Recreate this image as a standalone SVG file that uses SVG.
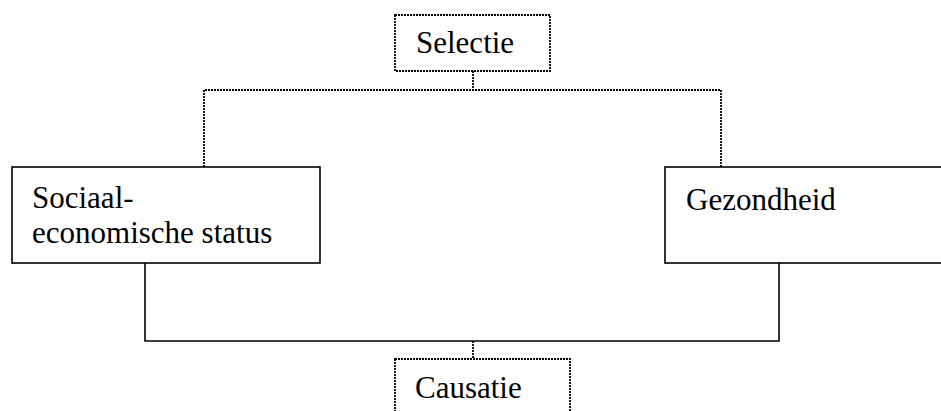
<svg xmlns="http://www.w3.org/2000/svg" width="941" height="411" viewBox="0 0 941 411">
<style>
.solid{fill:#fff;stroke:#000;stroke-width:1.6}
.dot{fill:#fff;stroke:#000;stroke-width:1.8;stroke-dasharray:2 1}
.ls{fill:none;stroke:#000;stroke-width:1.6}
.ld{fill:none;stroke:#000;stroke-width:1.8;stroke-dasharray:2 1}
text{font-family:"Liberation Serif","Times New Roman",serif;font-size:31px;fill:#000}
</style>
<rect width="941" height="411" fill="#fff"/>
<g id="connectors">
<path class="ld" d="M473 71V90M204 167V90H721V167"/>
<path class="ls" d="M145 263V341H779V263"/>
<path class="ld" d="M473 341V359"/>
</g>
<g id="selectie">
<rect class="dot" x="395" y="15" width="155" height="56"/>
<text x="416" y="53">Selectie</text>
</g>
<g id="ses">
<rect class="solid" x="12" y="167" width="308" height="96"/>
<text x="32" y="208">Sociaal-</text>
<text x="32" y="243">economische status</text>
</g>
<g id="gezondheid">
<rect class="solid" x="665" y="167" width="285" height="96"/>
<text x="686" y="210">Gezondheid</text>
</g>
<g id="causatie">
<rect class="dot" x="395" y="359" width="175" height="60"/>
<text x="415" y="398">Causatie</text>
</g>
</svg>
